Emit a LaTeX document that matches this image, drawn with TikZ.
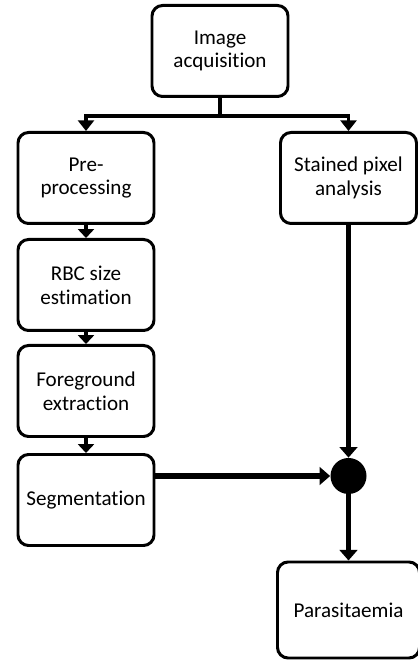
\documentclass[tikz,border=0pt]{standalone}
\usepackage{fontspec}
\setmainfont{Carlito}[Ligatures=NoCommon]
\usetikzlibrary{arrows.meta, calc}

\begin{document}
\begin{tikzpicture}[
  stepbox/.style={
    rectangle, rounded corners=6pt, draw, line width=1.7pt,
    minimum width=2.72cm, minimum height=1.82cm,
    font=\fontsize{12}{13.5}\selectfont, align=center, inner sep=2pt,
  },
  mergedot/.style={circle, fill=black, minimum size=0.72cm, inner sep=0pt},
  thin arrow/.style={-{Triangle[width=9pt,length=6pt]}, line width=1.8pt},
  stack arrow/.style={-{Triangle[width=9pt,length=5pt]}, line width=2.6pt},
  thick arrow/.style={-{Triangle[width=10pt,length=6pt]}, line width=3.4pt},
]
  \useasboundingbox (0,0) rectangle (8.34,13.2);

  \node[stepbox] (acq) at (4.4,12.18) {Image\\acquisition};
  \node[stepbox] (pre) at (1.72,9.64) {Pre-\\processing};
  \node[stepbox] (stain) at (6.97,9.64) {Stained pixel\\analysis};
  \node[stepbox] (rbc) at (1.72,7.5) {RBC size\\estimation};
  \node[stepbox] (fg) at (1.72,5.38) {Foreground\\extraction};
  \node[stepbox] (seg) at (1.72,3.2) {Segmentation};
  \node[mergedot] (dot) at (6.97,3.68) {};
  \node[stepbox, minimum width=2.84cm, minimum height=1.92cm] (para) at (6.97,1.0) {Parasitaemia};

  % split below acquisition
  \coordinate (split) at ($(acq.south)+(0,-0.36)$);
  \draw[line width=1.8pt] (acq.south) -- (split);
  \draw[thin arrow] (split) -| (pre.north);
  \draw[thin arrow] (split) -| (stain.north);

  % left stack
  \draw[stack arrow] (pre) -- (rbc);
  \draw[stack arrow] (rbc) -- (fg);
  \draw[stack arrow] (fg) -- (seg);

  % merge into parasitaemia
  \draw[thick arrow] (stain) -- (dot);
  \draw[thick arrow] (seg.east |- dot) -- (dot);
  \draw[thick arrow] (dot) -- (dot |- para.north);
\end{tikzpicture}
\end{document}
